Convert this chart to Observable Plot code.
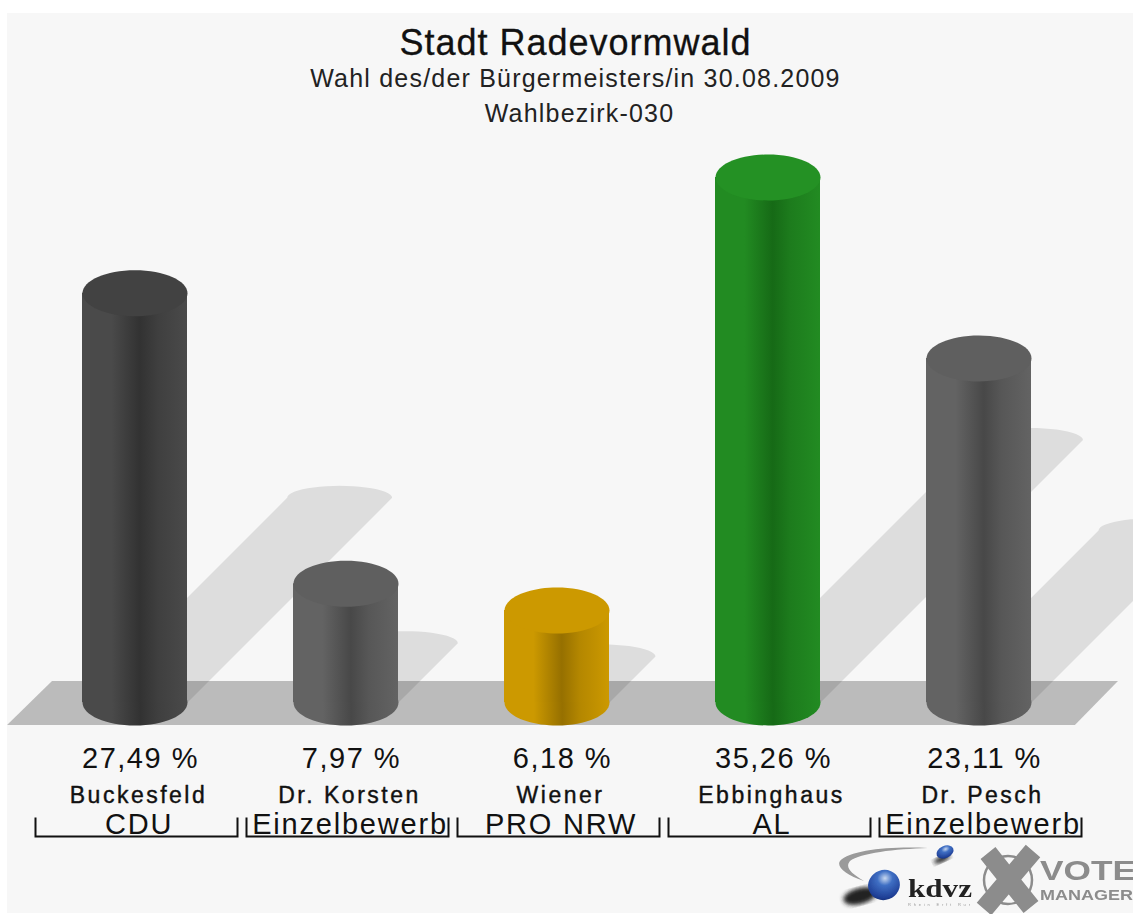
<!DOCTYPE html>
<html lang="de">
<head>
<meta charset="utf-8">
<script src="https://cdn.jsdelivr.net/npm/d3@7"></script>
<script src="https://cdn.jsdelivr.net/npm/@observablehq/plot@0.6"></script>
<style>
  html, body { margin: 0; padding: 0; background: #fff; overflow: hidden; }
  body { width: 1133px; height: 914px; position: relative; font-family: "Liberation Sans", Arial, sans-serif; color: #111; }
  #bg { position: absolute; left: 7px; top: 13px; width: 1126px; height: 900px; background: #f7f7f7; }
  #head { position: relative; height: 130px; width: 1151px; text-align: center; }
  #head div { position: absolute; left: 0; right: 0; white-space: nowrap; }
  #t1 { top: 22px; font-size: 36px; letter-spacing: 1px; color: #111; -webkit-text-stroke: 0.3px #111; }
  #t2 { top: 64px; font-size: 25px; letter-spacing: 1.2px; color: #222; }
  #t3 { top: 99px; font-size: 25px; letter-spacing: 1.2px; color: #222; padding-left: 8px; }
  #chart { position: absolute; left: 0; top: 130px; }
  #chart svg { display: block; background: transparent; }
  #logo { position: absolute; left: 820px; top: 835px; }
</style>
</head>
<body>
<div id="bg"></div>
<div id="head">
  <div id="t1">Stadt Radevormwald</div>
  <div id="t2">Wahl des/der Bürgermeisters/in 30.08.2009</div>
  <div id="t3">Wahlbezirk-030</div>
</div>
<div id="chart"></div>
<svg id="logo" width="313" height="79" viewBox="0 0 313 79" xmlns="http://www.w3.org/2000/svg">
  <defs>
    <radialGradient id="ball" cx="0.6" cy="0.3" r="0.8">
      <stop offset="0" stop-color="#c8d8f0"/>
      <stop offset="0.3" stop-color="#3f6fc4"/>
      <stop offset="0.8" stop-color="#1f3f96"/>
      <stop offset="1" stop-color="#122a6a"/>
    </radialGradient>
    <filter id="soft"><feGaussianBlur stdDeviation="2"/></filter>
    <filter id="soft1"><feGaussianBlur stdDeviation="0.6"/></filter>
  </defs>
  <g filter="url(#soft1)">
    <path d="M108 13 C70 11 30 15 20 26 C16 32 26 40 44 46 C30 38 25 32 30 26 C40 18 75 14 108 13Z" fill="#9a9a9a"/>
    <ellipse cx="40" cy="61" rx="17" ry="8" fill="#222" filter="url(#soft)" transform="rotate(-15 40 61)"/>
    <ellipse cx="64" cy="50" rx="16" ry="15" fill="url(#ball)" transform="rotate(-20 64 50)"/>
    <ellipse cx="122" cy="24" rx="9" ry="3" fill="#222" filter="url(#soft)" transform="rotate(-25 122 24)"/>
    <ellipse cx="125" cy="17" rx="9" ry="6" fill="url(#ball)" transform="rotate(-25 125 17)"/>
    <text x="88" y="62" font-family="Liberation Serif" font-weight="700" font-size="25" fill="#222" textLength="64" lengthAdjust="spacingAndGlyphs">kdvz</text>
    <text x="88" y="71" font-family="Liberation Sans" font-size="4" fill="#999" textLength="62">Rhein Erft Rur</text>
    <circle cx="188" cy="45" r="24" fill="none" stroke="#8c8c8c" stroke-width="2.5"/>
    <path d="M168 18 L211 72 M213 16 L164 74" stroke="#8c8c8c" stroke-width="19" fill="none"/>
    <text x="220" y="45" font-family="Liberation Sans" font-weight="700" font-size="28" fill="#8c8c8c" textLength="96" lengthAdjust="spacingAndGlyphs">VOTE</text>
    <text x="220" y="65" font-family="Liberation Sans" font-weight="700" font-size="14" fill="#8c8c8c" textLength="93" lengthAdjust="spacingAndGlyphs">MANAGER</text>
  </g>
</svg>
<script>
// Data
const candidates = ["Buckesfeld", "Dr. Korsten", "Wiener", "Ebbinghaus", "Dr. Pesch"];
const parties = ["CDU", "Einzelbewerb", "PRO NRW", "AL", "Einzelbewerb"];
const shares = [27.49, 7.97, 6.18, 35.26, 23.11];
const shareLabels = ["27,49 %", "7,97 %", "6,18 %", "35,26 %", "23,11 %"];
// colour per bar: [edge, centre, top]
const palette = [
  ["#4a4a4a", "#323232", "#424242"],
  ["#636363", "#484848", "#5f5f5f"],
  ["#cc9900", "#967000", "#cc9900"],
  ["#228b22", "#166a16", "#249124"],
  ["#636363", "#484848", "#5f5f5f"]
];

const rows = candidates.map((name, i) => ({
  i, name, party: parties[i], v: shares[i], label: shareLabels[i], colors: palette[i]
}));

// scale set-up: pixels per unit of the x and y scales
const pitch = 211, pxPerPct = 525 / 35.26;
const halfBar = 52.5 / pitch;
const capRy = 12 / pxPerPct;
const shadowRatio = 0.5;                    // shadow length relative to the bar, at 45 degrees
const shift = v => v * shadowRatio * pxPerPct / pitch;

const K = 0.5523;
const ellipse = (rx, ry) => ({ draw(c) {
  c.moveTo(-rx, 0);
  c.bezierCurveTo(-rx, -K * ry, -K * rx, -ry, 0, -ry);
  c.bezierCurveTo(K * rx, -ry, rx, -K * ry, rx, 0);
  c.bezierCurveTo(rx, K * ry, K * rx, ry, 0, ry);
  c.bezierCurveTo(-K * rx, ry, -rx, K * ry, -rx, 0);
  c.closePath();
} });
const bracket = (w, h) => ({ draw(c) { c.moveTo(-w, -h); c.lineTo(-w, 0); c.lineTo(w, 0); c.lineTo(w, -h); } });

const gradients = () => {
  const ns = "http://www.w3.org/2000/svg";
  const defs = document.createElementNS(ns, "defs");
  palette.forEach(([edge, mid], i) => {
    const g = document.createElementNS(ns, "linearGradient");
    g.id = "cyl" + i;
    [[0, edge], [0.28, edge], [0.55, mid], [0.72, d3.interpolateRgb(mid, edge)(0.55)], [1, edge]].forEach(([o, col]) => {
      const s = document.createElementNS(ns, "stop");
      s.setAttribute("offset", o);
      s.setAttribute("stop-color", col);
      g.appendChild(s);
    });
    defs.appendChild(g);
  });
  return defs;
};

const floor = [
  { y: -23 / pxPerPct, x1: -0.604, x2: 4.457 },
  { y: 21 / pxPerPct, x1: -0.391, x2: 4.661 }
];

// One closed outline per shadow: a 45-degree band capped by half an ellipse
const shadowOutline = d => {
  const cx = d.i + shift(d.v), cy = d.v * shadowRatio;
  const cap = d3.range(0, 25).map(k => {
    const t = Math.PI * (1 - k / 24);
    return { x: cx + halfBar * Math.cos(t), y: cy + capRy * Math.sin(t) };
  });
  return [{ x: d.i - halfBar, y: 0 }, ...cap, { x: d.i + halfBar, y: 0 }];
};
const shadowMarks = rows.map(d =>
  Plot.line(shadowOutline(d), { x: "x", y: "y", fill: "#000", fillOpacity: 0.1, stroke: "none" })
);

const barMarks = rows.flatMap(d => [
  Plot.dot([d], { x: "i", y: () => 0, symbol: ellipse(52.5, 23), fill: `url(#cyl${d.i})`, stroke: "none" }),
  Plot.rectY([d], { x1: r => r.i - halfBar, x2: r => r.i + halfBar, y1: () => 0, y2: "v", fill: `url(#cyl${d.i})` }),
  Plot.dot([d], { x: "i", y: "v", symbol: ellipse(52.5, 23), fill: d.colors[2], stroke: "none" })
]);

const chart = Plot.plot({
  width: 1133,
  height: 784,
  margin: 0,
  style: { background: "transparent", overflow: "hidden" },
  x: { type: "linear", domain: [0, 4], range: [134.5, 978.5], axis: null },
  y: { type: "linear", domain: [0, 35.26], range: [572, 47], axis: null },
  marks: [
    gradients,
    Plot.areaX(floor, { y: "y", x1: "x1", x2: "x2", fill: "#bbbbbb" }),
    ...shadowMarks,
    ...barMarks,
    Plot.text(rows, { x: r => r.i + 5.5 / pitch, y: () => 0, dy: 65, text: "label", fontSize: 29, fill: "#111", lineAnchor: "bottom", fontFamily: "Liberation Sans" }),
    Plot.text(rows, { x: r => r.i + 3.5 / pitch, y: () => 0, dy: 100, text: "name", fontSize: 23, fill: "#111", stroke: "#111", strokeWidth: 0.4, lineAnchor: "bottom", fontFamily: "Liberation Sans" }),
    Plot.text(rows, { x: r => r.i + 4 / pitch, y: () => 0, dy: 131, text: "party", fontSize: 29, fill: "#111", lineAnchor: "bottom", fontFamily: "Liberation Sans" }),
    Plot.dot(rows, { x: r => r.i + 1.5 / pitch, y: () => 0, dy: 134, symbol: bracket(101, 19), fill: "none", stroke: "#111", strokeWidth: 2 })
  ]
});
document.getElementById("chart").appendChild(chart);
// Spaced-out lettering of the three label rows (the marks have no letter-spacing option)
const spacing = { "pct": "1.5px", 23: "2.5px" };
chart.querySelectorAll(`g[font-size="29"]`).forEach((g, k) => {
  g.querySelectorAll("text").forEach(t => { t.style.letterSpacing = k === 0 ? "1.5px" : "1.8px"; });
});
chart.querySelectorAll(`g[font-size="23"] text`).forEach(t => { t.style.letterSpacing = spacing[23]; });
</script>
</body>
</html>
